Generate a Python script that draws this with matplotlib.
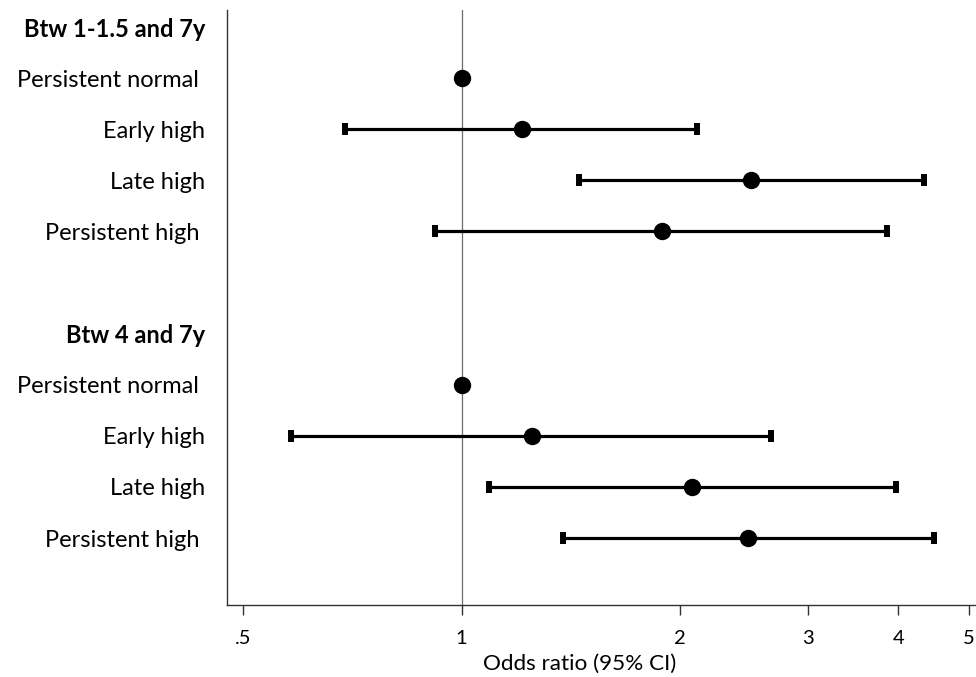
import numpy as np
import matplotlib
matplotlib.use("Agg")
import matplotlib.pyplot as plt

plt.rcParams['font.family'] = ['Lato', 'DejaVu Sans']

### data
row_labels = ["Btw 1-1.5 and 7y", "Persistent normal ", "Early high", "Late high", "Persistent high ",
              "",
              "Btw 4 and 7y", "Persistent normal ", "Early high", "Late high", "Persistent high "]
is_header = [True, False, False, False, False, False, True, False, False, False, False]

# odds ratios, None where no estimate on the row
odds = [None, 1.0, 1.21, 2.51, 1.89, None, None, 1.0, 1.25, 2.08, 2.48]
ci_low = [None, None, 0.691, 1.45, 0.92, None, None, None, 0.582, 1.09, 1.38]
ci_high = [None, None, 2.11, 4.34, 3.86, None, None, None, 2.67, 3.97, 4.48]

xticks = [0.5, 1, 2, 3, 4, 5]
xtick_labels = [".5", "1", "2", "3", "4", "5"]

fig = plt.figure(figsize=(9.76, 6.77), dpi=100)
ax = fig.add_axes([227/976, 1 - 605/677, 1 - 227/976, (605 - 10)/677])

rows = np.arange(len(row_labels))

# reference line at OR = 1
ax.axvline(1, color="#6e6e6e", lw=0.9, zorder=1)

# confidence intervals
ci_rows = [r for r in rows if ci_low[r] is not None]
est = np.array([odds[r] for r in ci_rows])
lo = np.array([ci_low[r] for r in ci_rows])
hi = np.array([ci_high[r] for r in ci_rows])
ax.errorbar(est, ci_rows, xerr=[est - lo, hi - est], fmt="none", ecolor="black",
            elinewidth=2.3, capsize=4.3, capthick=4.3, zorder=2)

# point estimates
pt_rows = [r for r in rows if odds[r] is not None]
ax.plot([odds[r] for r in pt_rows], pt_rows, "o", color="black", ms=11.5, zorder=3)

ax.set_xscale("log")
ax.set_xlim(0.475, 5.12)
ax.set_ylim(11.31, -0.333)
ax.set_xticks(xticks)
ax.set_xticklabels(xtick_labels)
ax.minorticks_off()
ax.tick_params(axis="x", length=7.2, width=1.0, color="#333333", pad=11, labelsize=14.5)

ax.set_yticks(rows)
ax.set_yticklabels(row_labels, fontsize=17)
ax.tick_params(axis="y", length=0, pad=15.8)
for lab, hd in zip(ax.get_yticklabels(), is_header):
    if hd:
        lab.set_fontweight("bold")

for s in ["top", "right"]:
    ax.spines[s].set_visible(False)
for s in ["left", "bottom"]:
    ax.spines[s].set_color("#333333")
    ax.spines[s].set_linewidth(1.0)

fig.text(580/976, 1 - 664/677, "Odds ratio (95% CI)", ha="center", va="center", fontsize=16.2)

fig.savefig("out.png", dpi=100)
